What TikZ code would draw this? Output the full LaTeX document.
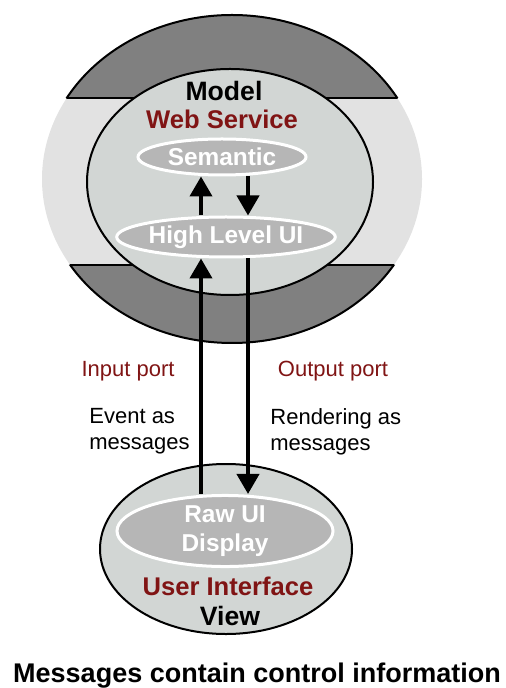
\documentclass[tikz,border=0pt]{standalone}
\usepackage{fontspec}
\setmainfont{Liberation Sans}
\usepackage{xcolor}
\usetikzlibrary{arrows.meta, shapes.geometric}

\definecolor{capgray}{RGB}{128,128,128}
\definecolor{bandgray}{RGB}{226,226,226}
\definecolor{innergray}{RGB}{210,214,212}
\definecolor{layergray}{RGB}{182,182,182}
\definecolor{darkred}{RGB}{128,20,20}

\begin{document}
\begin{tikzpicture}[
        x=0.5pt, y=-0.5pt,
        shell/.style={ellipse, draw, line width=1pt, fill=innergray, inner sep=0pt},
        layer/.style={ellipse, draw=white, line width=1.5pt, fill=layergray, inner sep=0pt, text=white, align=center,
            font=\fontsize{12.2}{14.2}\selectfont\bfseries},
        title/.style={font=\fontsize{13.3}{16}\selectfont\bfseries, anchor=base},
        role/.style={text=darkred, font=\fontsize{12.8}{15}\selectfont\bfseries, anchor=base},
        port/.style={text=darkred, font=\fontsize{11}{13}\selectfont, anchor=base},
        note/.style={align=left, inner sep=0pt, anchor=north west, font=\fontsize{11}{13}\selectfont},
        msg/.style={-{Triangle[width=11pt, length=10pt]}, line width=2pt}
    ]
    \useasboundingbox (0,0) rectangle (505,688);

    % outer ring of the model
    \begin{scope}
        \clip (232,179) ellipse [x radius=190, y radius=164];
        \fill[capgray] (0,0) rectangle (505,98);
        \fill[bandgray] (0,98) rectangle (505,265);
        \fill[capgray] (0,265) rectangle (505,360);
        \draw[line width=1pt] (0,98) -- (505,98) (0,265) -- (505,265);
    \end{scope}
    \begin{scope}
        \clip (0,0) rectangle (505,98) (0,265) rectangle (505,360);
        \draw[line width=1pt] (232,179) ellipse [x radius=190, y radius=164];
    \end{scope}

    \node[shell, minimum width=143pt, minimum height=113pt] (model) at (230,182) {};
    \node[title] (modeltxt) at (224,101) {Model};
    \node[role] (websvc) at (222,129) {Web Service};
    \node[layer, minimum width=84pt, minimum height=18pt] (sem) at (222,157) {Semantic};
    \node[layer, minimum width=108pt, minimum height=20pt] (hlui) at (226,237) {High Level UI};

    \node[shell, minimum width=126pt, minimum height=85pt] (view) at (226,549) {};
    \node[layer, minimum width=108pt, minimum height=34pt] (raw) at (225,531) {Raw UI\\Display};
    \node[role] (ui) at (228,595) {User Interface};
    \node[title] (viewtxt) at (230,625) {View};

    \coordinate (inx) at (201,0);
    \coordinate (outx) at (248,0);

    \draw[msg] (hlui.north -| inx) -- (sem.south -| inx);
    \draw[msg] (sem.south -| outx) -- (hlui.north -| outx);
    \draw[msg] (raw.north -| inx) -- (hlui.south -| inx);
    \draw[msg] (hlui.south -| outx) -- (raw.north -| outx);

    \node[port] (inport) at (128,376) {Input port};
    \node[port] (outport) at (333,376) {Output port};
    \node[note] (events) at (89,408) {Event as\\messages};
    \node[note] (renders) at (270,408) {Rendering as\\messages};

    \node[font=\fontsize{13.5}{16}\selectfont\bfseries, anchor=base] (caption) at (257,682) {Messages contain control information};

\end{tikzpicture}
\end{document}
